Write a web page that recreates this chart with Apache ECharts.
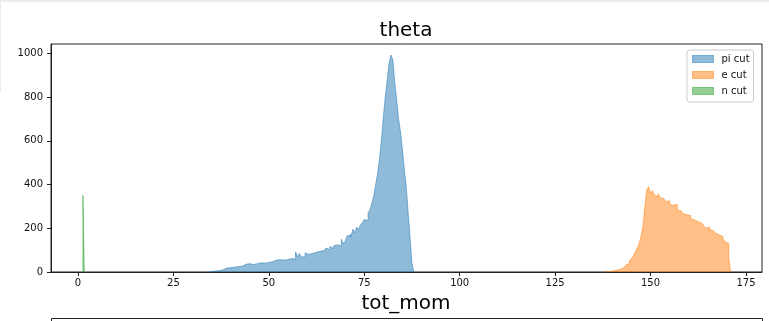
<!DOCTYPE html>
<html>
<head>
<meta charset="utf-8">
<script src="https://cdn.jsdelivr.net/npm/echarts@6/dist/echarts.min.js"></script>
<style>html,body{margin:0;padding:0;background:#fff;}#c{width:769px;height:321px;}</style>
</head>
<body>
<div id="c"></div>
<script>
// ---- data ----
const titleText = 'theta';
const nextTitleText = 'tot_mom';
const seriesNames = ['pi cut', 'e cut', 'n cut'];
const xTicks = [0, 25, 50, 75, 100, 125, 150, 175];
const yTicks = [0, 200, 400, 600, 800, 1000];

// pi cut histogram: bins start at 34.0, width 0.5
const piStart = 34.0, piWidth = 0.5;
const piCounts = [
  0, 2, 3, 5, 8, 6, 12, 10, 15, 18, 14, 20, 24, 22, 28, 25, 30, 26, 33, 35,
  30, 38, 36, 34, 40, 38, 35, 42, 45, 40, 48, 44, 50, 47, 52, 55, 50, 56, 58, 54,
  60, 57, 56, 62, 60, 58, 92, 70, 85, 68, 72, 88, 80, 75, 86, 82, 90, 85, 95, 100,
  98, 104, 110, 102, 116, 108, 120, 125, 132, 118, 150, 130, 140, 165, 170, 160, 195, 180, 205, 195,
  215, 225, 240, 235, 270, 285, 315, 350, 400, 452, 520, 603, 709, 800, 878, 955, 992, 970, 864, 786,
  700, 640, 560, 470, 390, 270, 160, 40
];

// e cut histogram: bins start at 138.0, width 0.5
const eStart = 138.0, eWidth = 0.5;
const eCounts = [
  1, 2, 3, 4, 6, 8, 10, 12, 18, 20, 26, 32, 40, 52, 62, 75, 92, 110, 128, 165,
  207, 299, 375, 390, 360, 372, 352, 345, 358, 340, 335, 330, 321, 326, 310, 305, 299, 310, 285, 280,
  276, 268, 262, 253, 258, 245, 238, 242, 230, 225, 222, 228, 210, 200, 205, 195, 188, 184, 178, 170,
  165, 161, 150, 139, 130, 60
];

// n cut histogram: one bin
const nStart = 1.3, nWidth = 0.35;
const nCounts = [350];

// ---- build step outlines (bin edges from start/width) ----
function histPoints(start, width, counts) {
  const pts = [[start, 0]];
  counts.forEach((c, i) => {
    pts.push([start + i * width, c]);
    pts.push([start + (i + 1) * width, c]);
  });
  pts.push([start + counts.length * width, 0]);
  return pts;
}

const colors = ['31,119,180', '255,127,14', '44,160,44'];
const hists = [
  histPoints(piStart, piWidth, piCounts),
  histPoints(eStart, eWidth, eCounts),
  histPoints(nStart, nWidth, nCounts)
];

const chart = echarts.init(document.getElementById('c'), null, {renderer: 'canvas'});
const font = 'DejaVu Sans';
chart.setOption({
  animation: false,
  backgroundColor: '#fff',
  grid: {left: 51, right: 7, top: 44, bottom: 49, show: true, borderColor: '#222', borderWidth: 1, containLabel: false},
  xAxis: {
    type: 'value', min: -7.07, max: 179.2,
    splitLine: {show: false},
    axisLine: {show: true, onZero: false, lineStyle: {color: '#222', width: 1}},
    axisTick: {show: true, length: 4, lineStyle: {color: '#222'}, customValues: xTicks},
    axisLabel: {color: '#111', fontFamily: font, fontSize: 10, margin: 6, customValues: xTicks, formatter: v => String(v)}
  },
  yAxis: {
    type: 'value', min: 0, max: 1042.5,
    splitLine: {show: false},
    axisLine: {show: true, onZero: false, lineStyle: {color: '#222', width: 1}},
    axisTick: {show: true, length: 4, lineStyle: {color: '#222'}, customValues: yTicks},
    axisLabel: {color: '#111', fontFamily: font, fontSize: 10, margin: 8, customValues: yTicks, formatter: v => String(v)}
  },
  legend: {
    orient: 'vertical', left: 687, top: 50,
    padding: [3, 4, 5, 5], itemGap: 4, itemWidth: 21, itemHeight: 7,
    backgroundColor: 'rgba(255,255,255,0.8)', borderColor: '#cccccc', borderWidth: 1, borderRadius: 3,
    textStyle: {fontFamily: font, fontSize: 10, color: '#111', lineHeight: 12, padding: [0, 0, 0, 3]},
    data: seriesNames.map((n, i) => ({
      name: n, icon: 'rect',
      itemStyle: {color: 'rgba(' + colors[i] + ',0.5)', borderColor: 'rgba(' + colors[i] + ',0.5)', borderWidth: 1}
    }))
  },
  series: hists.map((pts, i) => ({
    name: seriesNames[i], type: 'line', data: pts,
    showSymbol: false, symbol: 'none', z: 2 + i,
    lineStyle: {color: 'rgba(' + colors[i] + ',0.5)', width: 1},
    itemStyle: {color: 'rgba(' + colors[i] + ',0.5)'},
    areaStyle: {color: 'rgba(' + colors[i] + ',0.5)', opacity: 1, origin: 'start'}
  })),
  graphic: [
    {type: 'rect', shape: {x: 0, y: 0, width: 769, height: 2}, style: {fill: '#e8ecec'}, silent: true},
    {type: 'rect', shape: {x: 0, y: 0, width: 1, height: 92}, style: {fill: '#e8ecec'}, silent: true},
    {type: 'text', x: 406, y: 31, style: {text: titleText, font: '20px "DejaVu Sans"', fill: '#000', align: 'center', verticalAlign: 'middle'}},
    {type: 'text', x: 406, y: 304, style: {text: nextTitleText, font: '20px "DejaVu Sans"', fill: '#000', align: 'center', verticalAlign: 'middle'}},
    {type: 'rect', shape: {x: 51.5, y: 318.5, width: 711, height: 20}, style: {fill: '#fff', stroke: '#222', lineWidth: 1}}
  ]
});
</script>
</body>
</html>
